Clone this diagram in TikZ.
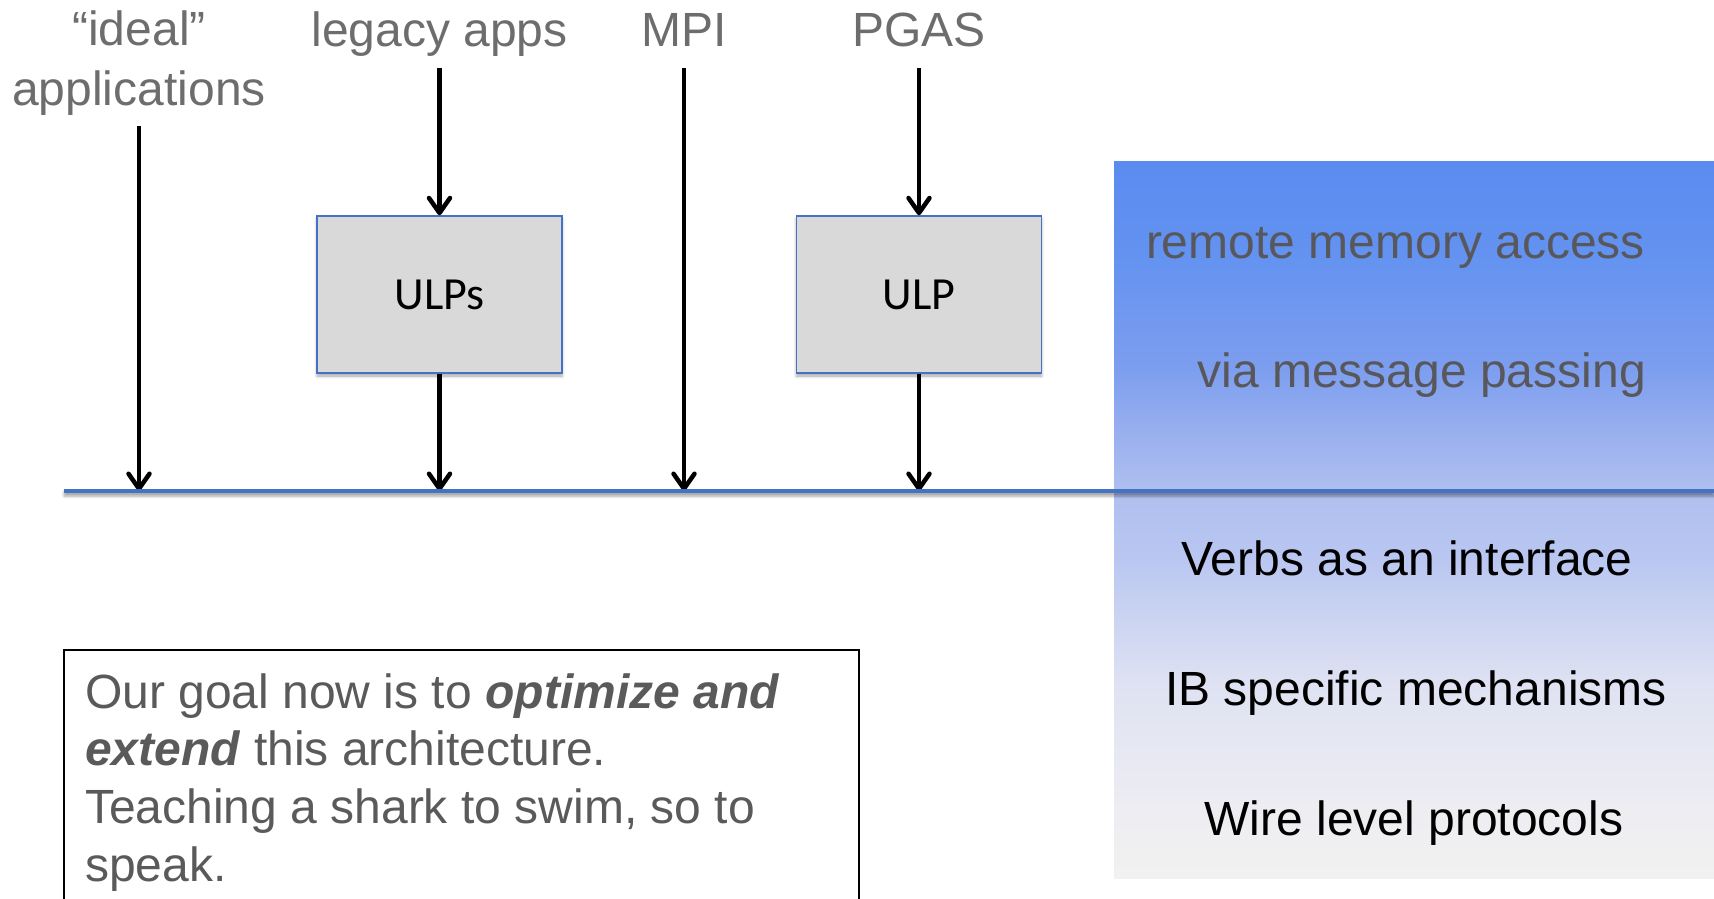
\documentclass[tikz,border=0pt]{standalone}
\usepackage{fontspec}
\setmainfont{Liberation Sans}
\newfontfamily\ulpfont{Carlito}
\usetikzlibrary{arrows.meta,shadows.blur}

\definecolor{busblue}{HTML}{4472C4}
\definecolor{boxfill}{HTML}{D9D9D9}
\definecolor{labelgray}{HTML}{6D6D6D}
\definecolor{paneltext}{HTML}{58585C}
\definecolor{notetext}{HTML}{5A5A5A}
% stops of the layer panel gradient, bottom to top
\definecolor{pA}{HTML}{F1F1F1}
\definecolor{pB}{HTML}{EEEEF2}
\definecolor{pC}{HTML}{DFE2F2}
\definecolor{pD}{HTML}{B9C6F1}
\definecolor{pE}{HTML}{AFBFEF}
\definecolor{pF}{HTML}{98AFEF}
\definecolor{pG}{HTML}{7D9EEF}
\definecolor{pH}{HTML}{6392F0}
\definecolor{pI}{HTML}{5A8CF0}
\pgfdeclareverticalshading{layerpanel}{100bp}{%
  color(0bp)=(pA); color(25bp)=(pA); color(29.25bp)=(pB);
  color(38.4bp)=(pC); color(47.45bp)=(pD); color(52bp)=(pE);
  color(56.25bp)=(pF); color(60.45bp)=(pG); color(68.5bp)=(pH);
  color(75bp)=(pI); color(100bp)=(pI)}

\begin{document}
\begin{tikzpicture}[x=1pt,y=-1pt,
  toplabel/.style={font=\fontsize{48}{58}\selectfont, text=labelgray,
    inner sep=0pt, anchor=base},
  ulpbox/.style={draw=busblue, line width=1.5pt, fill=boxfill,
    minimum width=245pt, minimum height=157pt, inner sep=0pt,
    font=\ulpfont\fontsize{46}{55}\selectfont,
    blur shadow={shadow xshift=0pt, shadow yshift=-3pt,
      shadow blur radius=3pt, shadow opacity=35}},
  feed/.style={line width=4.5pt,
    -{Straight Barb[length=15pt,width=21pt,round]}},
  panelgray/.style={font=\fontsize{48}{58}\selectfont, text=paneltext,
    inner sep=0pt, anchor=base east},
  layertxt/.style={font=\fontsize{48}{58}\selectfont, text=black,
    inner sep=0pt, anchor=base},
  notetxt/.style={font=\fontsize{48}{58}\selectfont, text=notetext,
    inner sep=0pt, anchor=base west}]

\useasboundingbox (0,0) rectangle (1714,899);
\clip (0,0) rectangle (1714,899);

% layer panel on the right
\shade[shading=layerpanel] (1114,161) rectangle (1714,878);
\node[panelgray] (rma) at (1645,258) {remote memory access};
\node[panelgray] (vmp) at (1646,387) {via message passing};
\node[layertxt] (verbs) at (1407,575) {Verbs as an interface};
\node[layertxt] (ibmech) at (1416,705) {IB specific mechanisms};
\node[layertxt] (wire) at (1414,835) {Wire level protocols};

% application labels
\node[toplabel] (ideal1) at (139,46) {“ideal”};
\node[toplabel] (ideal2) at (139,105) {applications};
\node[toplabel] (legacy) at (439.5,47) {legacy apps};
\node[toplabel] (mpi) at (684,47) {MPI};
\node[toplabel] (pgas) at (919,47) {PGAS};

% ULP boxes
\node[ulpbox] (ulps) at (439.5,294.5) {ULPs};
\node[ulpbox] (ulp) at (919,294.5) {ULP};

% the verbs interface line
\coordinate (busW) at (64,491);
\coordinate (busE) at (1714,491);
\coordinate (idealS) at (139,126);
\coordinate (legacyS) at (439.5,68);
\coordinate (mpiS) at (684,68);
\coordinate (pgasS) at (919,68);

\draw[feed] (idealS) -- (idealS |- busW);
\draw[feed] (legacyS) -- (ulps.north);
\draw[feed] (ulps.south) -- (ulps.south |- busW);
\draw[feed] (mpiS) -- (mpiS |- busW);
\draw[feed] (pgasS) -- (ulp.north);
\draw[feed] (ulp.south) -- (ulp.south |- busW);

\fill[busblue, blur shadow={shadow xshift=0pt, shadow yshift=-3pt,
    shadow blur radius=2.5pt, shadow opacity=35}]
  ([yshift=2.3pt]busW) rectangle ([yshift=-2.3pt]busE);

% note box
\draw[line width=1.6pt, fill=white] (64,650) rectangle (859,920);
\node[notetxt] (n1) at (85,708) {Our goal now is to \textbf{\textit{optimize and}}};
\node[notetxt] (n2) at (85,765) {\textbf{\textit{extend}} this architecture.};
\node[notetxt] (n3) at (85,823) {Teaching a shark to swim, so to};
\node[notetxt] (n4) at (85,881) {speak.};
\end{tikzpicture}
\end{document}
